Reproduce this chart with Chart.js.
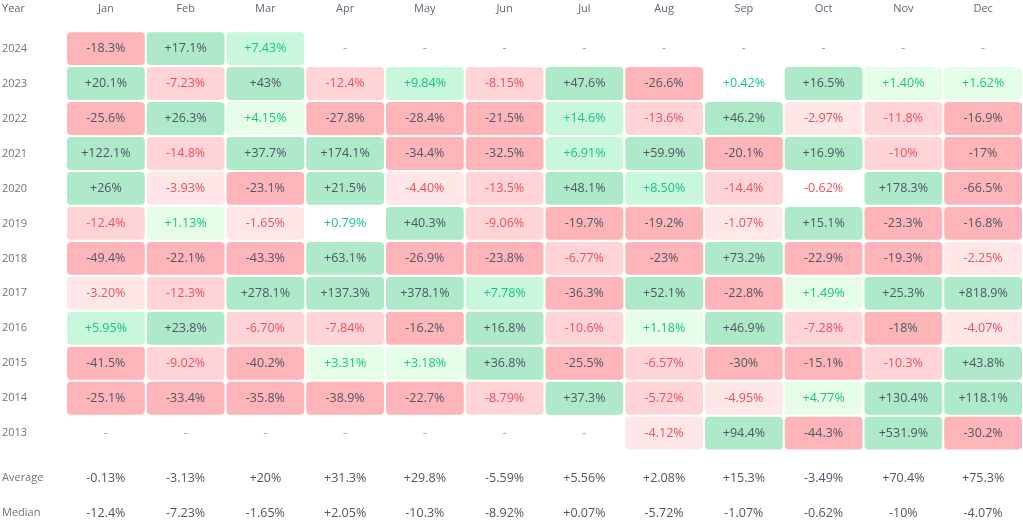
<!DOCTYPE html>
<html>
<head>
<meta charset="utf-8">
<script src="https://cdn.jsdelivr.net/npm/chart.js@4.4.1/dist/chart.umd.min.js"></script>
<style>
  html, body { margin: 0; padding: 0; background: #fff; }
  #wrap { width: 1023px; height: 530px; position: relative; }
</style>
</head>
<body>
<div id="wrap"><canvas id="heat"></canvas></div>
<script>
const months = ['Jan', 'Feb', 'Mar', 'Apr', 'May', 'Jun', 'Jul', 'Aug', 'Sep', 'Oct', 'Nov', 'Dec'];
const years = ['2024', '2023', '2022', '2021', '2020', '2019', '2018', '2017', '2016', '2015', '2014', '2013'];

const r2024 = [-18.3, 17.1, 7.43, null, null, null, null, null, null, null, null, null];
const r2023 = [20.1, -7.23, 43, -12.4, 9.84, -8.15, 47.6, -26.6, 0.42, 16.5, 1.40, 1.62];
const r2022 = [-25.6, 26.3, 4.15, -27.8, -28.4, -21.5, 14.6, -13.6, 46.2, -2.97, -11.8, -16.9];
const r2021 = [122.1, -14.8, 37.7, 174.1, -34.4, -32.5, 6.91, 59.9, -20.1, 16.9, -10, -17];
const r2020 = [26, -3.93, -23.1, 21.5, -4.40, -13.5, 48.1, 8.50, -14.4, -0.62, 178.3, -66.5];
const r2019 = [-12.4, 1.13, -1.65, 0.79, 40.3, -9.06, -19.7, -19.2, -1.07, 15.1, -23.3, -16.8];
const r2018 = [-49.4, -22.1, -43.3, 63.1, -26.9, -23.8, -6.77, -23, 73.2, -22.9, -19.3, -2.25];
const r2017 = [-3.20, -12.3, 278.1, 137.3, 378.1, 7.78, -36.3, 52.1, -22.8, 1.49, 25.3, 818.9];
const r2016 = [5.95, 23.8, -6.70, -7.84, -16.2, 16.8, -10.6, 1.18, 46.9, -7.28, -18, -4.07];
const r2015 = [-41.5, -9.02, -40.2, 3.31, 3.18, 36.8, -25.5, -6.57, -30, -15.1, -10.3, 43.8];
const r2014 = [-25.1, -33.4, -35.8, -38.9, -22.7, -8.79, 37.3, -5.72, -4.95, 4.77, 130.4, 118.1];
const r2013 = [null, null, null, null, null, null, null, -4.12, 94.4, -44.3, 531.9, -30.2];

const average = [-0.13, -3.13, 20, 31.3, 29.8, -5.59, 5.56, 2.08, 15.3, -3.49, 70.4, 75.3];
const median = [-12.4, -7.23, -1.65, 2.05, -10.3, -8.92, 0.07, -5.72, -1.07, -0.62, -10, -4.07];

const yearRows = [r2024, r2023, r2022, r2021, r2020, r2019, r2018, r2017, r2016, r2015, r2014, r2013];
const summaryRows = [average, median];
const summaryLabels = ['Average', 'Median'];

// row positions on the y scale (summary rows sit a little lower)
const rowPos = years.map((y, i) => i).concat(summaryLabels.map((s, k) => years.length + 0.29 + k));
const rowLabels = years.concat(summaryLabels);

const FONT = '"Open Sans", "Noto Sans", sans-serif';
const DARK = '#4f5566';
const GREEN = '#16c784';
const RED = '#f0505c';

function fmt(v) {
  let a = Math.abs(v);
  let s = a < 10 ? a.toFixed(2) : a.toFixed(1).replace(/\.0$/, '');
  return (v >= 0 ? '+' : '-') + s + '%';
}

function cellColor(v) {
  if (v === null) return 'rgba(0,0,0,0)';
  let a = Math.abs(v);
  if (a < 1) return 'rgba(0,0,0,0)';
  if (v > 0) {
    if (a >= 15) return '#aee9c9';
    if (a >= 5) return '#c8f7dc';
    return '#e6fde8';
  } else {
    if (a >= 15) return '#feb5b9';
    if (a >= 5) return '#ffd4d6';
    return '#ffe6e7';
  }
}

function textColor(v) {
  if (Math.abs(v) >= 15) return DARK;
  return v >= 0 ? GREEN : RED;
}

const datasets = yearRows.map((row, i) => ({
  label: years[i],
  data: row.map(v => v === null ? null : [i - 0.47, i + 0.47]),
  backgroundColor: row.map(cellColor),
  borderWidth: 0,
  borderRadius: 4,
  borderSkipped: false,
  grouped: false,
  barPercentage: 0.975,
  categoryPercentage: 1
}));

const cellText = {
  id: 'cellText',
  afterDatasetsDraw(chart) {
    const ctx = chart.ctx;
    const xs = chart.scales.x, ys = chart.scales.y;
    ctx.save();
    ctx.textAlign = 'center';
    ctx.textBaseline = 'middle';
    ctx.font = '12.5px ' + FONT;
    yearRows.forEach((row, i) => {
      const meta = chart.getDatasetMeta(i);
      row.forEach((v, j) => {
        if (v === null) {
          ctx.fillStyle = '#9aa0aa';
          ctx.fillText('-', xs.getPixelForValue(j), ys.getPixelForValue(rowPos[i]));
          return;
        }
        const el = meta.data[j];
        ctx.fillStyle = textColor(v);
        ctx.fillText(fmt(v), el.x, (el.y + el.base) / 2);
      });
    });
    summaryRows.forEach((row, k) => {
      const y = ys.getPixelForValue(rowPos[years.length + k]);
      row.forEach((v, j) => {
        ctx.fillStyle = DARK;
        ctx.fillText(fmt(v), xs.getPixelForValue(j), y);
      });
    });
    // corner header
    ctx.textAlign = 'left';
    ctx.font = '11px ' + FONT;
    ctx.fillStyle = '#5f6675';
    ctx.fillText('Year', 2, 8.5);
    ctx.restore();
  }
};

new Chart(document.getElementById('heat'), {
  type: 'bar',
  data: { labels: months, datasets: datasets },
  options: {
    responsive: true,
    maintainAspectRatio: false,
    animation: false,
    layout: { padding: { left: 2 } },
    plugins: { legend: { display: false }, tooltip: { enabled: false } },
    scales: {
      x: {
        position: 'top',
        grid: { display: false, drawTicks: false },
        border: { display: false },
        ticks: { color: '#5f6675', font: { family: FONT, size: 11 }, padding: 5 },
        afterFit(scale) { scale.height = 20; }
      },
      y: {
        type: 'linear',
        reverse: true,
        min: -0.817,
        max: 13.58,
        grid: { display: false, drawTicks: false },
        border: { display: false },
        afterBuildTicks(scale) {
          scale.ticks = rowPos.map(p => ({ value: p }));
        },
        ticks: {
          autoSkip: false,
          crossAlign: 'far',
          padding: 0,
          color: '#6c7383',
          font: { family: FONT, size: 11 },
          callback: (value, index) => rowLabels[index]
        },
        afterFit(scale) { scale.width = 64; }
      }
    }
  },
  plugins: [cellText]
});
</script>
</body>
</html>
